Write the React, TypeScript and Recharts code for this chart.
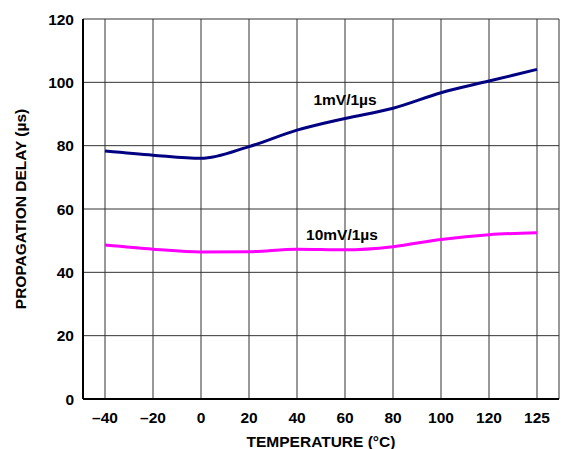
import { LineChart, Line, XAxis, YAxis, CartesianGrid, ReferenceDot } from "recharts";

const temperatures = [-40, -20, 0, 20, 40, 60, 80, 100, 120, 125];
const delay1mV = [78.3, 77.0, 76.0, 79.7, 84.9, 88.6, 91.8, 96.7, 100.4, 104.1];
const delay10mV = [48.6, 47.3, 46.4, 46.5, 47.3, 47.1, 48.1, 50.4, 51.9, 52.5];
const yTicks = [0, 20, 40, 60, 80, 100, 120];

const data = temperatures.map((t, i) => ({
  temp: t,
  slow: delay1mV[i],
  fast: delay10mV[i],
}));

const font = { fontFamily: "'Liberation Sans', Arial, sans-serif", fontWeight: 700, fontSize: 15.5, fill: "#000" };
const fmtTemp = (t: number) => (t < 0 ? "\u2013" + Math.abs(t) : String(t));

export default function App() {
  return (
    <div style={{ position: "absolute", left: 0, top: 0, background: "#fff" }}>
      <LineChart width={566} height={449} data={data} margin={{ top: 19, right: 7, bottom: 0, left: 0 }}>
        <CartesianGrid stroke="#333" strokeWidth={1} />
        <XAxis
          dataKey="temp"
          type="category"
          padding={{ left: 22, right: 22 }}
          height={50}
          tickSize={0}
          tickMargin={13}
          tickFormatter={fmtTemp}
          tick={font}
          axisLine={{ stroke: "#000", strokeWidth: 2 }}
          label={{ value: "TEMPERATURE (°C)", position: "insideBottom", offset: 2, style: font }}
        />
        <XAxis xAxisId="top" orientation="top" dataKey="temp" height={0} tick={false} tickLine={false} axisLine={{ stroke: "#000", strokeWidth: 2 }} />
        <YAxis
          domain={[0, 120]}
          ticks={yTicks}
          width={83}
          tickSize={0}
          tickMargin={9}
          tick={font}
          axisLine={{ stroke: "#000", strokeWidth: 2 }}
          label={{ value: "PROPAGATION DELAY (µs)", angle: -90, position: "insideLeft", offset: 20, style: { ...font, textAnchor: "middle" } }}
        />
        <YAxis yAxisId="right" orientation="right" width={0} tick={false} tickLine={false} axisLine={{ stroke: "#000", strokeWidth: 2 }} />
        <Line dataKey="slow" type="monotone" stroke="#000080" strokeWidth={3} dot={false} isAnimationActive={false} />
        <Line dataKey="fast" type="monotone" stroke="#ff00ff" strokeWidth={3} dot={false} isAnimationActive={false} />
        <ReferenceDot x={60} y={94.7} r={0} stroke="none" label={{ value: "1mV/1µs", position: "center", style: font }} />
        <ReferenceDot x={60} y={52} r={0} stroke="none" label={{ value: "10mV/1µs", position: "center", dx: -3, style: font }} />
      </LineChart>
    </div>
  );
}
